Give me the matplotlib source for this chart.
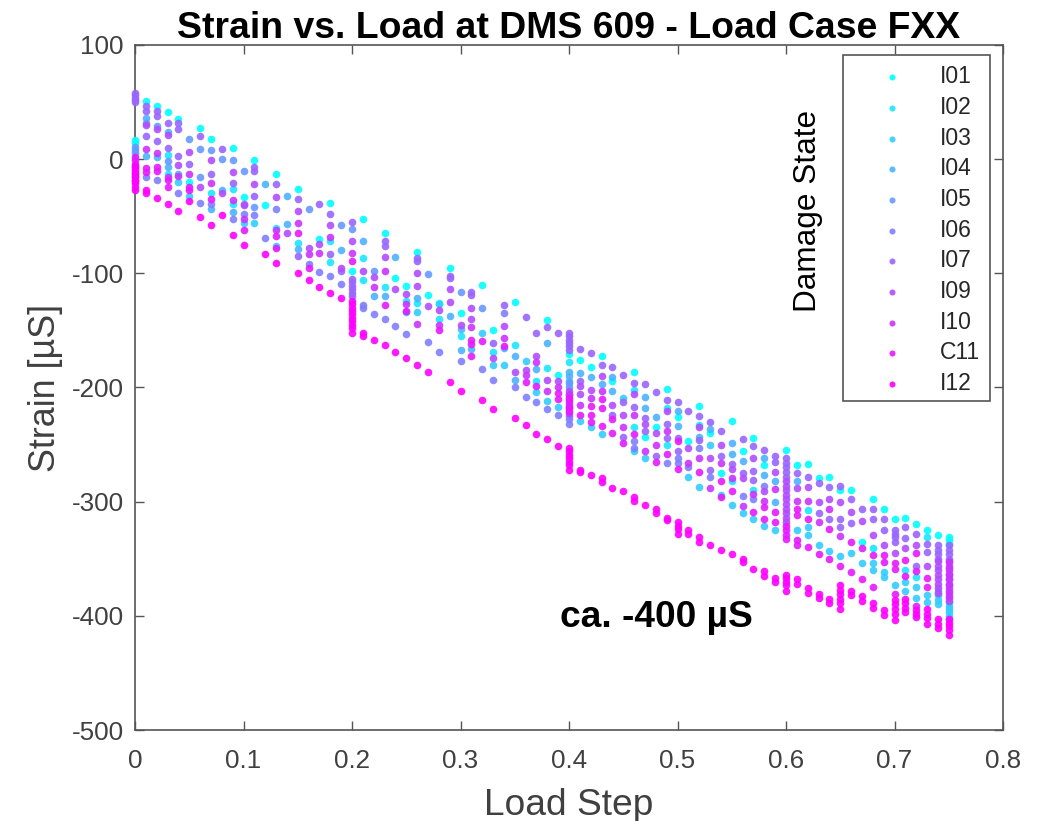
import matplotlib

matplotlib.use("Agg")
import matplotlib.pyplot as plt
from matplotlib.patches import Rectangle

# (load step, strain) pairs, one list per damage state
I01 = [(0, 17), (0, 14), (.01, 51), (.02, 47), (.03, 41), (.04, 35), (.05, -20), (.06, 27), (.07, 18), (.09, 10),
       (.10, -33), (.11, -1), (.12, -40), (.13, -13), (.15, -26), (.17, -70), (.18, -38), (.20, -98), (.21, -52),
       (.23, -65), (.24, -104), (.25, -111), (.26, -81), (.27, -119), (.28, -126), (.29, -95), (.30, -135),
       (.32, -110), (.33, -150), (.35, -125), (.38, -141), (.39, -189), (.40, -171), (.41, -176), (.42, -182),
       (.43, -172), (.44, -194), (.46, -186), (.47, -243), (.48, -235), (.49, -201), (.50, -226), (.51, -247),
       (.52, -216), (.53, -240), (.54, -275), (.55, -229), (.56, -256), (.57, -244), (.58, -268), (.60, -255),
       (.61, -268), (.62, -267), (.63, -279), (.64, -278), (.65, -290), (.66, -290), (.67, -335), (.68, -298),
       (.69, -306), (.70, -315), (.71, -314), (.72, -320), (.73, -325), (.74, -329), (.75, -331), (.75, -334),
       (.75, -337)]
I02 = [(.03, 4), (.03, -13), (.07, -30), (.09, -26), (.09, -39), (.13, -60), (.15, -73), (.18, -72), (.18, -90),
       (.21, -87), (.21, -106), (.23, -112), (.25, -124), (.26, -126), (.28, -140), (.30, -155), (.33, -169),
       (.35, -163), (.37, -194), (.38, -183), (.40, -178), (.46, -202), (.46, -235), (.49, -218), (.49, -250),
       (.52, -233), (.55, -282), (.57, -290), (.62, -307), (.68, -341), (.71, -360), (.72, -366), (.73, -331)]
I03 = [(.04, -20), (.05, -32), (.10, -56), (.11, -56), (.13, -76), (.26, -134), (.28, -127), (.32, -152), (.33, -180),
       (.34, -180), (.36, -177), (.37, -204), (.38, -212), (.39, -217), (.41, -229), (.42, -235), (.43, -241),
       (.45, -209), (.46, -256), (.47, -262), (.51, -278), (.52, -287), (.53, -250), (.54, -294), (.55, -303),
       (.56, -310), (.57, -315), (.58, -321), (.59, -325), (.61, -325), (.62, -322), (.62, -329), (.63, -338),
       (.64, -343), (.65, -348), (.66, -345), (.67, -354), (.68, -354), (.68, -360), (.69, -362), (.69, -366),
       (.70, -373), (.71, -370), (.71, -378), (.72, -375), (.72, -384), (.73, -382), (.73, -388), (.74, -378),
       (.74, -382), (.74, -386), (.74, -390), (.75, -388), (.75, -391), (.75, -394), (.75, -397), (.75, -400),
       (.75, -403)]
I04 = [(.01, 36), (.01, 3), (.02, 2), (.03, 24), (.03, -7), (.04, -13), (.07, -44), (.08, -27), (.09, -46), (.12, -22),
       (.14, -32), (.14, -57), (.15, -79), (.19, -80), (.21, -72), (.22, -120), (.23, -120), (.24, -86), (.25, -134),
       (.26, -122), (.29, -137), (.30, -149), (.30, -167), (.31, -166), (.34, -165), (.35, -172), (.35, -193),
       (.37, -184), (.38, -161), (.40, -186), (.40, -190), (.40, -194), (.41, -187), (.42, -191), (.43, -197),
       (.44, -191), (.44, -203), (.47, -218), (.47, -208), (.48, -226), (.50, -221), (.50, -234), (.52, -243),
       (.53, -236), (.55, -249), (.55, -258), (.56, -264), (.58, -262), (.58, -277), (.59, -282), (.59, -300),
       (.61, -282)]
I05 = [(0, 11), (0, 8), (0, 5), (.01, 32), (.02, 29), (.03, -2), (.05, 18), (.06, 9), (.06, -16), (.07, 8), (.08, 0),
       (.09, -1), (.10, -10), (.11, -42), (.16, -44), (.19, -58), (.20, -61), (.22, -98), (.27, -101), (.30, -116),
       (.32, -130), (.40, -196), (.40, -200)]
I06 = [(.01, -16), (.02, -18), (.04, -30), (.06, -38), (.07, -39), (.09, -52), (.10, -48), (.11, -49), (.12, -69),
       (.13, -44), (.16, -92), (.17, -99), (.18, -102), (.19, -109), (.21, -128), (.21, -130), (.22, -136),
       (.23, -140), (.24, -146), (.25, -153), (.27, -160), (.28, -169), (.30, -177), (.32, -184), (.33, -193),
       (.34, -135), (.35, -200), (.36, -208), (.37, -213), (.38, -219), (.39, -224), (.40, -225), (.40, -228),
       (.40, -232), (.46, -247), (.46, -253), (.49, -266), (.50, -262), (.50, -266), (.51, -270), (.52, -253),
       (.53, -278), (.56, -295), (.57, -298), (.58, -286)]
I07 = [(0, 58), (0, 56), (0, 54), (0, 52), (0, 50), (.01, 47), (.01, 42), (.01, 20), (.02, 42), (.02, 38), (.02, 16),
       (.03, 32), (.03, 10), (.04, 32), (.04, 26), (.04, 3), (.05, -4), (.06, 20), (.07, -13), (.08, 9), (.09, -21),
       (.10, -39), (.11, -7), (.11, -10), (.11, -32), (.13, -22), (.15, -35), (.15, -85), (.17, -39), (.18, -48),
       (.18, -83), (.19, -98), (.20, -55), (.20, -105), (.20, -108), (.20, -111), (.20, -114), (.20, -117),
       (.20, -120), (.23, -72), (.23, -76), (.26, -87), (.26, -89), (.29, -102), (.29, -104), (.31, -116),
       (.31, -119), (.33, -161), (.34, -128), (.36, -138), (.37, -152), (.38, -147), (.39, -152), (.40, -152),
       (.40, -155), (.40, -158), (.40, -161), (.40, -164), (.40, -167), (.41, -166), (.41, -194), (.42, -170),
       (.43, -180), (.44, -182), (.44, -224), (.45, -189), (.45, -213), (.45, -243), (.46, -196), (.46, -217),
       (.47, -197), (.47, -227), (.47, -238), (.48, -204), (.48, -260), (.49, -211), (.49, -232), (.49, -244),
       (.50, -213), (.50, -244), (.50, -256), (.51, -221), (.52, -225), (.52, -246), (.53, -230), (.53, -272),
       (.54, -238), (.54, -260), (.55, -267), (.56, -245), (.56, -275), (.57, -251), (.57, -273), (.57, -281),
       (.58, -255), (.59, -260), (.59, -265), (.60, -262), (.60, -266), (.60, -270), (.60, -274), (.60, -278),
       (.61, -275), (.62, -278), (.63, -284), (.63, -310), (.64, -287), (.64, -315), (.65, -286), (.65, -315),
       (.65, -322), (.66, -298), (.66, -319), (.67, -306), (.68, -306), (.68, -315), (.69, -315), (.69, -325),
       (.70, -325), (.70, -328), (.70, -331), (.70, -335), (.71, -322), (.71, -332), (.72, -328), (.72, -356),
       (.73, -337), (.73, -344), (.74, -338), (.74, -342), (.74, -346), (.74, -350), (.75, -338), (.75, -342),
       (.75, -346), (.75, -350)]
I09 = [(.01, 30), (.02, 26), (.03, 21), (.04, -5), (.05, 6), (.06, -24), (.07, -1), (.08, -30), (.09, -11), (.10, -40),
       (.11, -22), (.13, -33), (.14, -65), (.15, -45), (.16, -78), (.17, -74), (.18, -58), (.19, -95), (.20, -72),
       (.21, -98), (.22, -103), (.23, -86), (.24, -114), (.25, -118), (.26, -100), (.26, -111), (.27, -129),
       (.28, -132), (.29, -114), (.29, -125), (.30, -145), (.31, -130), (.31, -140), (.33, -174), (.34, -146),
       (.35, -186), (.36, -185), (.37, -172), (.38, -193), (.39, -194), (.40, -203), (.40, -207), (.40, -211),
       (.40, -215), (.41, -199), (.41, -206), (.42, -202), (.43, -190), (.44, -215), (.45, -224), (.46, -206),
       (.47, -232), (.48, -240), (.49, -221), (.51, -253), (.52, -235), (.53, -262), (.54, -250), (.55, -271),
       (.56, -279), (.57, -262), (.58, -291), (.59, -274), (.60, -282), (.60, -286), (.60, -290), (.60, -294),
       (.60, -298), (.60, -302), (.60, -306), (.60, -310), (.60, -314), (.60, -318), (.61, -288), (.62, -287),
       (.63, -300), (.64, -298), (.65, -300), (.66, -309), (.67, -317), (.68, -329), (.69, -338), (.70, -345),
       (.71, -341), (.72, -338), (.73, -356), (.74, -352), (.74, -356), (.74, -360), (.74, -364), (.74, -368),
       (.74, -372), (.74, -376), (.74, -380), (.75, -352), (.75, -356), (.75, -360), (.75, -364), (.75, -368),
       (.75, -372), (.75, -376), (.75, -380), (.75, -384), (.75, -387)]
I10 = [(.01, 9), (.02, 5), (.03, -16), (.04, -15), (.05, -13), (.07, -21), (.09, -36), (.10, -52), (.13, -62),
       (.15, -56), (.16, -83), (.17, -82), (.18, -68), (.20, -82), (.22, -112), (.23, -98), (.25, -127), (.26, -144),
       (.28, -145), (.31, -147), (.34, -157), (.36, -189), (.37, -178), (.38, -203), (.39, -200), (.40, -206),
       (.40, -218), (.40, -222), (.41, -215), (.42, -209), (.43, -203), (.45, -235), (.46, -224), (.47, -256),
       (.48, -250), (.49, -238), (.51, -266), (.52, -262), (.53, -288), (.54, -266), (.55, -279), (.56, -304),
       (.57, -293), (.58, -299), (.59, -289), (.61, -299), (.62, -299), (.63, -318), (.64, -306), (.65, -330),
       (.75, -353), (.75, -358), (.75, -363), (.75, -368), (.75, -373), (.75, -378), (.75, -383)]
C11 = [(0, 2), (0, -1), (0, -4), (0, -7), (0, -10), (0, -13), (0, -16), (0, -19), (.01, -8), (.01, -11), (.02, -7),
       (.02, -10), (.03, -18), (.03, -24), (.05, -24), (.05, -27), (.07, -35), (.10, -62), (.13, -67), (.13, -78),
       (.15, -65), (.16, -95), (.20, -89), (.23, -128), (.25, -133), (.28, -150), (.31, -158), (.31, -162),
       (.31, -172), (.32, -159), (.34, -164), (.36, -195), (.37, -199), (.39, -205), (.39, -210), (.40, -209),
       (.40, -213), (.40, -217), (.40, -221), (.41, -224), (.42, -216), (.42, -224), (.42, -230), (.43, -210),
       (.43, -218), (.43, -234), (.44, -228), (.44, -240), (.45, -249), (.46, -241), (.48, -265), (.49, -258),
       (.50, -247), (.50, -271), (.52, -274), (.54, -282), (.54, -296), (.55, -291), (.57, -309), (.58, -305),
       (.58, -315), (.59, -309), (.59, -318), (.60, -321), (.60, -325), (.60, -329), (.60, -333), (.61, -306),
       (.61, -312), (.61, -334), (.61, -338), (.62, -315), (.62, -340), (.63, -346), (.64, -324), (.64, -350),
       (.65, -356), (.66, -335), (.66, -362), (.67, -341), (.67, -368), (.68, -347), (.68, -375), (.69, -347),
       (.69, -353), (.70, -354), (.70, -359), (.70, -381), (.71, -351), (.71, -365), (.72, -345), (.72, -361),
       (.72, -391), (.73, -367), (.73, -375)]
I12 = [(0, -6), (0, -9), (0, -12), (0, -15), (0, -18), (0, -21), (0, -24), (0, -27), (.01, -27), (.01, -30), (.02, -34),
       (.03, -39), (.04, -45), (.05, -37), (.06, -51), (.07, -58), (.08, -49), (.09, -66), (.10, -75), (.12, -83),
       (.13, -91), (.15, -100), (.16, -106), (.17, -112), (.18, -117), (.19, -122), (.20, -124), (.20, -127),
       (.20, -130), (.20, -133), (.20, -136), (.20, -139), (.20, -142), (.20, -145), (.20, -148), (.20, -152),
       (.21, -152), (.21, -155), (.22, -158), (.23, -163), (.24, -169), (.25, -174), (.26, -180), (.27, -186),
       (.29, -195), (.30, -203), (.32, -211), (.33, -219), (.35, -227), (.36, -233), (.37, -241), (.38, -245),
       (.39, -251), (.40, -253), (.40, -256), (.40, -259), (.40, -262), (.40, -265), (.40, -268), (.40, -272),
       (.41, -272), (.41, -274), (.42, -277), (.43, -279), (.43, -283), (.44, -288), (.45, -291), (.46, -296),
       (.46, -299), (.47, -303), (.48, -306), (.48, -310), (.49, -314), (.49, -316), (.50, -318), (.50, -321),
       (.50, -324), (.50, -328), (.51, -325), (.51, -328), (.52, -331), (.52, -335), (.53, -338), (.54, -342),
       (.55, -346), (.56, -350), (.56, -353), (.57, -359), (.58, -361), (.58, -365), (.59, -367), (.59, -370),
       (.60, -364), (.60, -367), (.60, -370), (.60, -373), (.60, -378), (.61, -368), (.61, -372), (.62, -376),
       (.62, -380), (.63, -381), (.63, -384), (.64, -385), (.64, -389), (.65, -373), (.65, -377), (.65, -381),
       (.65, -385), (.65, -389), (.65, -394), (.66, -378), (.66, -382), (.67, -383), (.67, -387), (.68, -389),
       (.68, -393), (.69, -395), (.69, -399), (.70, -386), (.70, -390), (.70, -394), (.70, -398), (.70, -404),
       (.71, -385), (.71, -389), (.71, -393), (.71, -397), (.72, -395), (.72, -398), (.72, -401), (.73, -394),
       (.73, -398), (.73, -402), (.73, -407), (.74, -403), (.74, -407), (.74, -411), (.75, -403), (.75, -406),
       (.75, -409), (.75, -412), (.75, -417)]

state_names = ["I01", "I02", "I03", "I04", "I05", "I06", "I07", "I09", "I10", "C11", "I12"]
state_points = [I01, I02, I03, I04, I05, I06, I07, I09, I10, C11, I12]
x_ticks = [0, 0.1, 0.2, 0.3, 0.4, 0.5, 0.6, 0.7, 0.8]
x_tick_labels = ["0", "0.1", "0.2", "0.3", "0.4", "0.5", "0.6", "0.7", "0.8"]
y_ticks = [-500, -400, -300, -200, -100, 0, 100]

plt.rcParams["font.family"] = ["Liberation Sans", "DejaVu Sans"]
W, H = 1043, 821
fig = plt.figure(figsize=(W / 100, H / 100), dpi=100)
ax = fig.add_axes([135 / W, 1 - 730 / H, (1003 - 135) / W, (730 - 45) / H])

cool = plt.get_cmap("cool")
for i, (name, points) in enumerate(zip(state_names, state_points)):
    steps, strain = zip(*points)
    ax.scatter(steps, strain, s=30, color=cool(i / 10), alpha=0.9, linewidths=0, label=name, clip_on=False, zorder=3 + i)

gray = "#555555"
ax.set_xlim(0, 0.8)
ax.set_ylim(-500, 100)
ax.set_xticks(x_ticks, x_tick_labels)
ax.set_yticks(y_ticks, [str(v) for v in y_ticks])
ax.tick_params(direction="in", length=6.5, width=1, color=gray, labelcolor="#404040", labelsize=18.7,
               top=True, right=True)
ax.tick_params(axis="x", pad=13.5)
ax.tick_params(axis="y", pad=8)
for spine in ax.spines.values():
    spine.set_color(gray)
    spine.set_linewidth(1.2)

ax.set_title("Strain vs. Load at DMS 609 - Load Case FXX", fontsize=26.9, fontweight="bold", pad=5)
ax.set_xlabel("Load Step", fontsize=26.7, color="#404040", labelpad=11)
ax.set_ylabel("Strain [µS]", fontsize=25.8, color="#404040", labelpad=6)

# legend box measured on the picture, the legend itself only holds markers and names
ax.add_patch(Rectangle((843 / W, 1 - 400.7 / H), 147 / W, 345.7 / H, transform=fig.transFigure, facecolor="white",
                       edgecolor=gray, linewidth=1.2, clip_on=False, zorder=19))
leg = ax.legend(loc="upper left", bbox_to_anchor=((843 - 135) / 868, 1 - (55 - 45) / 685), fontsize=16.5,
                markerscale=0.8, frameon=False, scatterpoints=1, handletextpad=0.39, handlelength=3.37,
                borderpad=0.45, labelspacing=0.335, borderaxespad=0)
leg.set_zorder(20)
for text in leg.get_texts():
    text.set_color("#262626")

ax.text(808 / W, 1 - 211 / H, "Damage State", transform=fig.transFigure, rotation=90, fontsize=22.7,
        ha="center", va="center", color="black", zorder=25)
ax.text(0.392, -401.5, "ca. -400 µS", fontsize=26.7, fontweight="bold", ha="left", va="center", color="black")

fig.savefig("out.png", dpi=100)
